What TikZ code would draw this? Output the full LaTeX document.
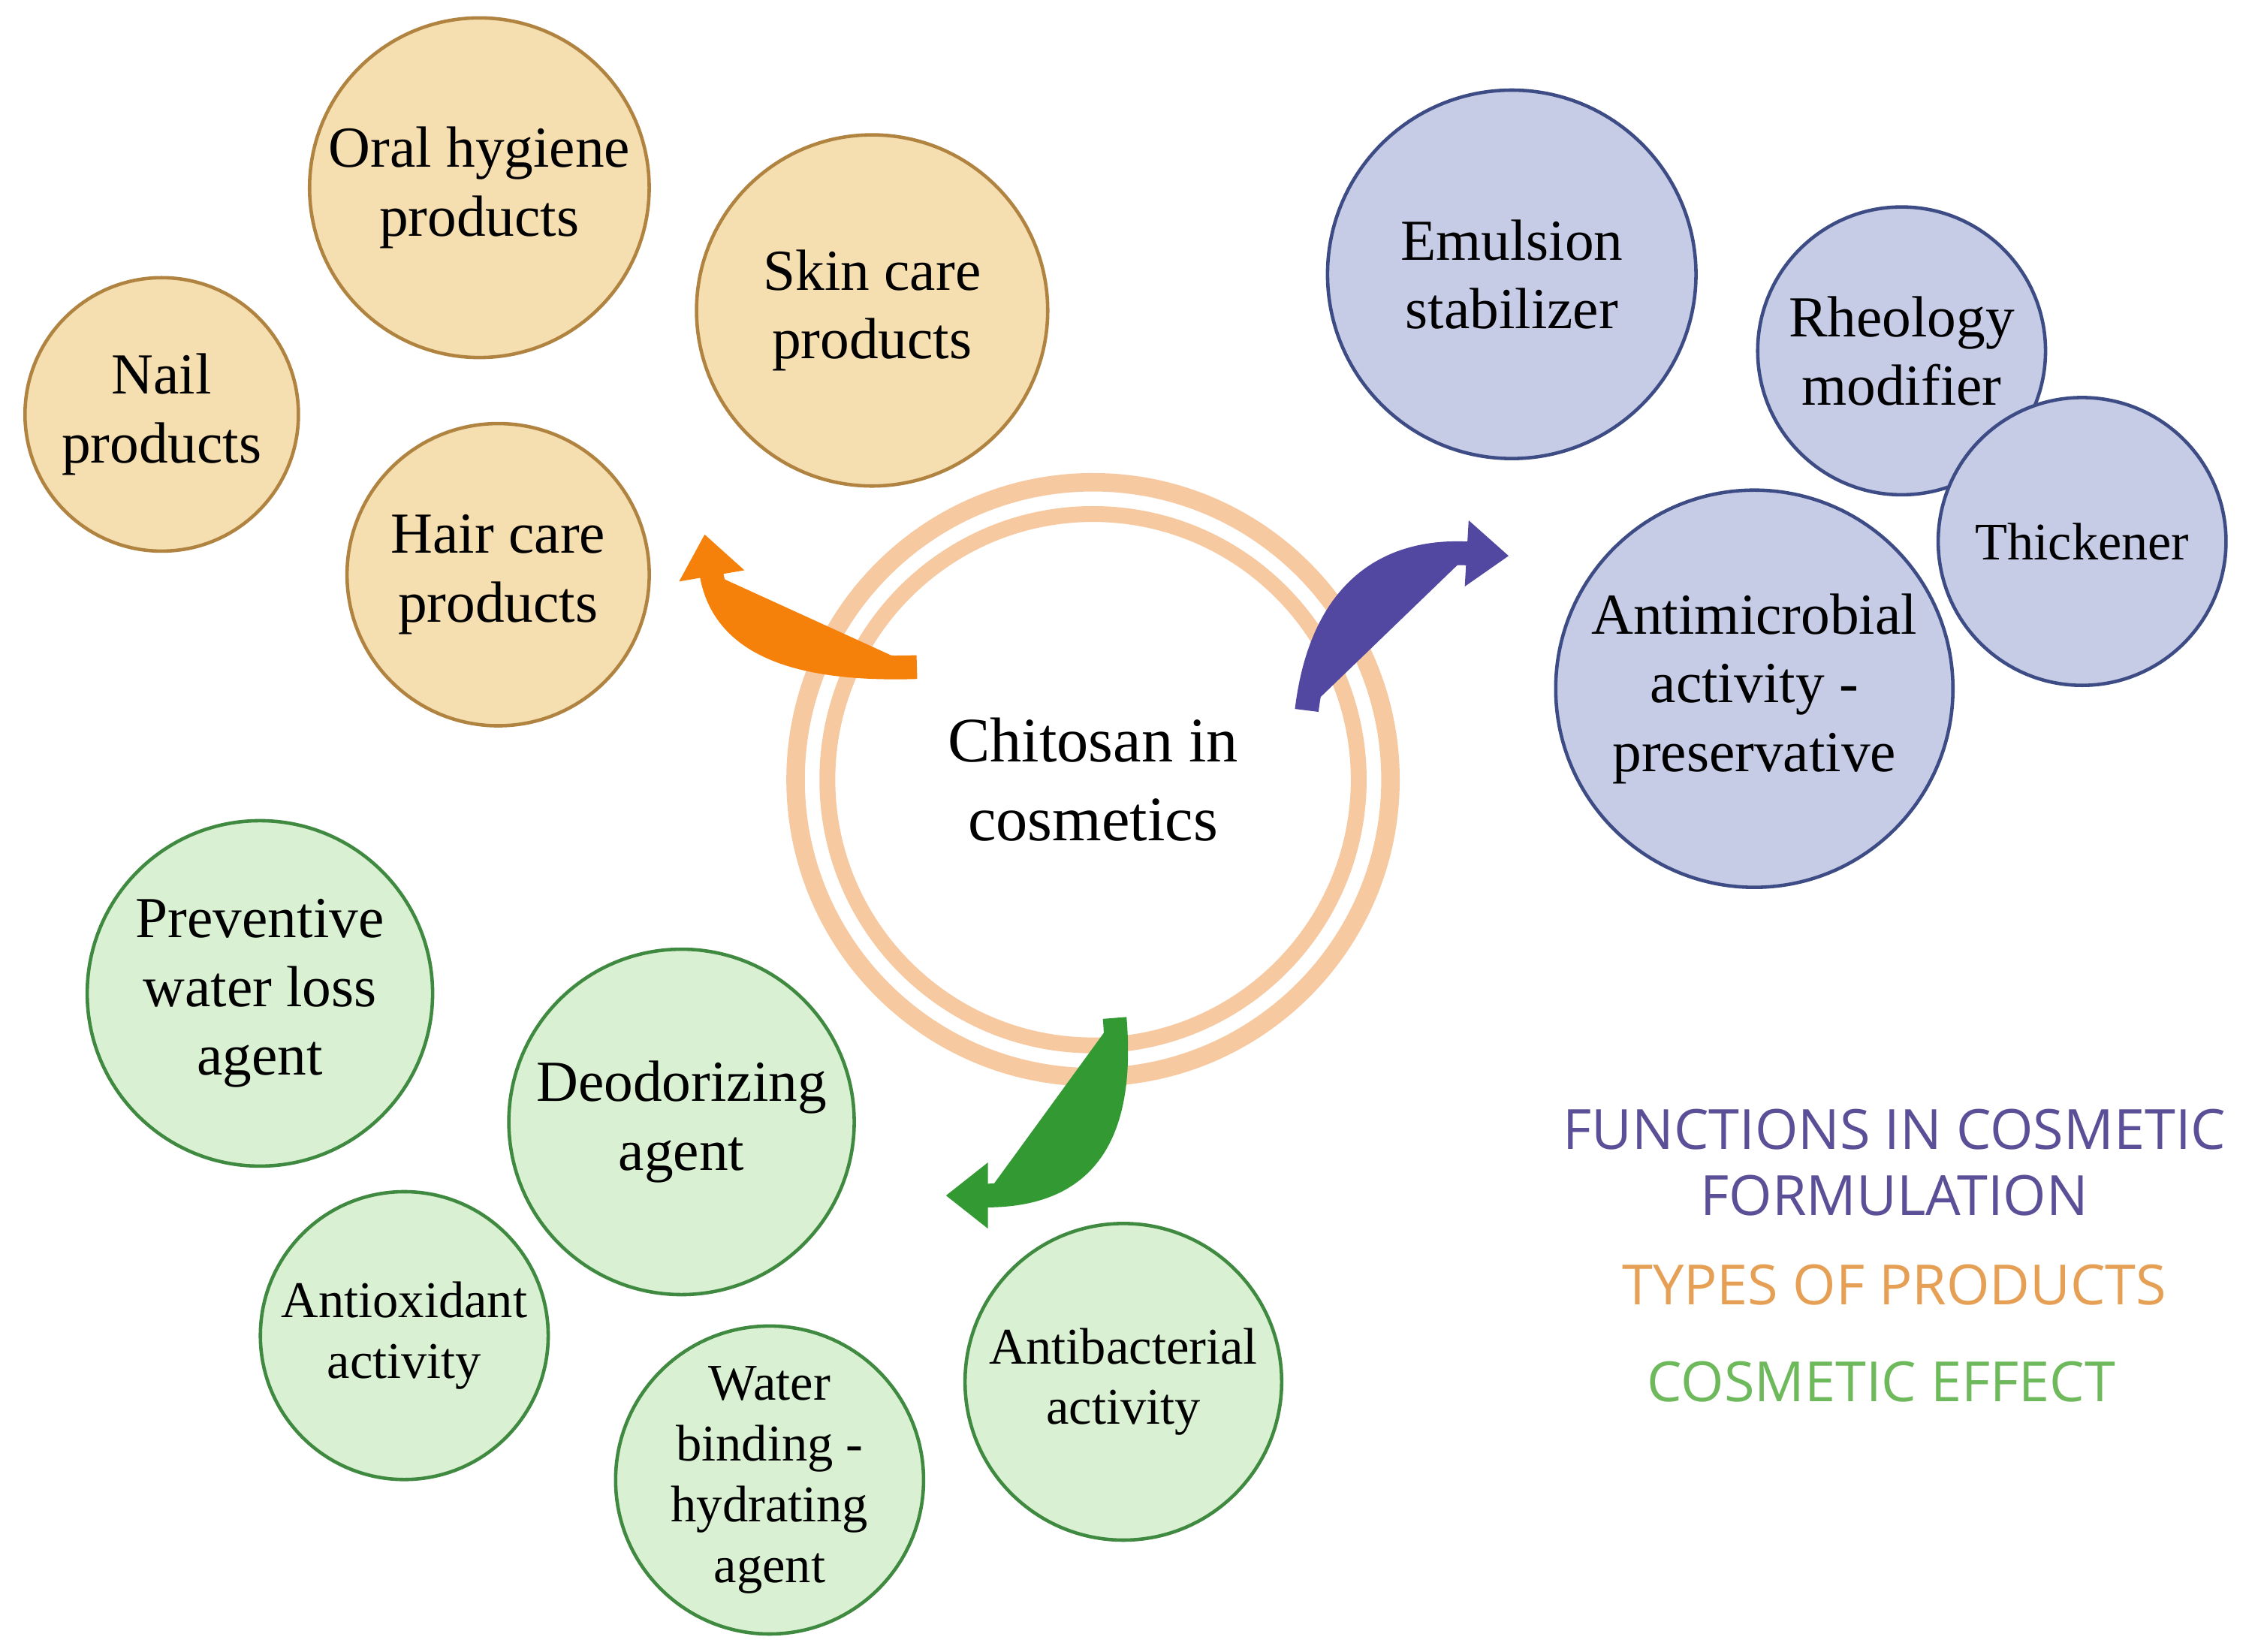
\documentclass[tikz,border=0pt]{standalone}
\usepackage{fontspec}
\setmainfont{Liberation Serif}
\newfontfamily\legfont{Open Sans}
\usetikzlibrary{arrows.meta}
\definecolor{ofill}{HTML}{F5DEB0}\definecolor{oline}{HTML}{B08440}
\definecolor{bfill}{HTML}{C6CBE6}\definecolor{bline}{HTML}{3E4C86}
\definecolor{gfill}{HTML}{D9F1D2}\definecolor{gline}{HTML}{3F8A40}
\definecolor{ring}{HTML}{F6C9A0}
\definecolor{lpur}{HTML}{5B4F97}\definecolor{lora}{HTML}{E5A055}\definecolor{lgre}{HTML}{6DB95C}
\tikzset{
 c/.style={circle,draw,line width=1.3pt,align=center,inner sep=0pt,minimum size={#1*1.0905pt},font=\fontsize{22}{26}\selectfont},
 o/.style={c=#1,fill=ofill,draw=oline},
 b/.style={c=#1,fill=bfill,draw=bline},
 g/.style={c=#1,fill=gfill,draw=gline},
 sm/.style={font=\fontsize{19.5}{23}\selectfont},
 leg/.style={font=\legfont\fontsize{21}{25}\selectfont,anchor=center},
 fat/.style={line width=9pt,-{Triangle[width=24pt,length=16pt]}}
}
\begin{document}
\begin{tikzpicture}[x=0.01923cm,y=-0.01923cm]
\useasboundingbox (0,0) rectangle (1568,1144);
% center ring
\draw[ring,line width=7pt] (757,540) circle (206);
\draw[ring,line width=6pt] (757,540) circle (184);
\node[font=\fontsize{24}{30}\selectfont,align=center] (center) at (757,540) {Chitosan in\\cosmetics};
% orange
\node[o=118] (oral) at (332,130) {Oral hygiene\\products};
\node[o=122] (skin) at (604,215) {Skin care\\products};
\node[o=95] (nail) at (112,287) {Nail\\products};
\node[o=105] (hair) at (345,398) {Hair care\\products};
% blue
\node[b=128] (emul) at (1047,190) {Emulsion\\stabilizer};
\node[b=100] (rheo) at (1317,243) {Rheology\\modifier};
\node[b=100,font=\fontsize{20}{24}\selectfont] (thick) at (1442,375) {Thickener};
\node[b=138] (anti) at (1215,477) {Antimicrobial\\activity -\\preservative};
% green
\node[g=120] (prev) at (180,688) {Preventive\\water loss\\agent};
\node[g=120] (deo) at (472,777) {Deodorizing\\agent};
\node[g=100,sm] (aox) at (280,925) {Antioxidant\\activity};
\node[g=107,sm] (wat) at (533,1025) {Water\\binding -\\hydrating\\agent};
\node[g=110,sm] (abac) at (778,957) {Antibacterial\\activity};
% arrows
\coordinate (oa) at (635,462); \coordinate (ot) at (488,370);
\coordinate (ba) at (905,492); \coordinate (bt) at (1045,385);
\coordinate (ga) at (772,705); \coordinate (gt) at (655,828);
\draw[fat,draw=orange!85!brown,fill=orange!85!brown] (oa) .. controls (540,465) and (500,440) .. (ot);
\draw[fat,draw=lpur!90!blue,fill=lpur!90!blue] (ba) .. controls (915,410) and (960,380) .. (bt);
\draw[fat,draw=green!50!black!80,fill=green!50!black!80] (ga) .. controls (780,800) and (740,828) .. (gt);
% legend
\node[leg,text=lpur,align=center] (l1) at (1312,805) {FUNCTIONS IN COSMETIC\\FORMULATION};
\node[leg,text=lora] (l2) at (1312,890) {TYPES OF PRODUCTS};
\node[leg,text=lgre] (l3) at (1303,957) {COSMETIC EFFECT};
\end{tikzpicture}
\end{document}
